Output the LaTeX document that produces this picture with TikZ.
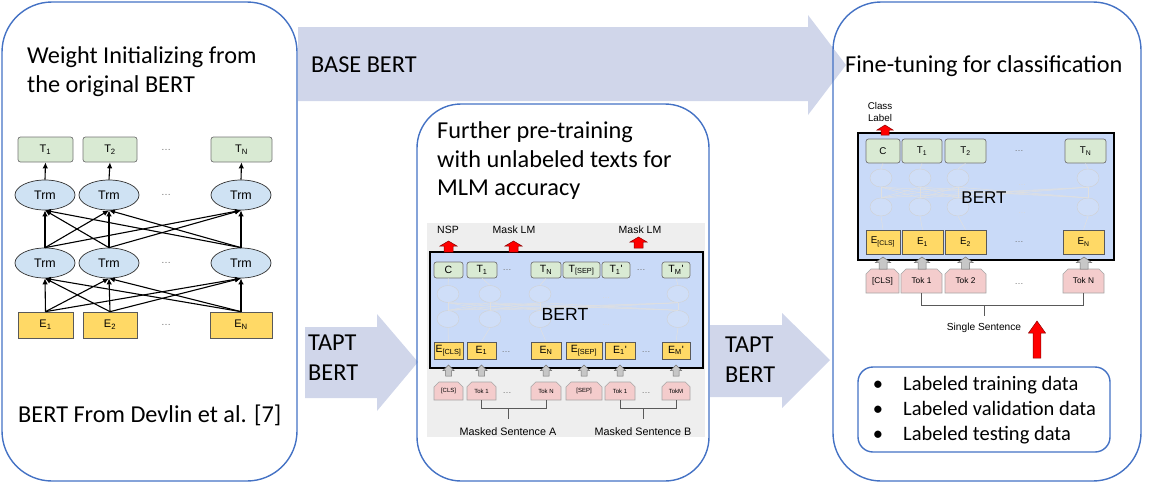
\documentclass[tikz,border=0pt]{standalone}
\usepackage{fontspec}
\setmainfont{Carlito}
\newfontfamily\arialfont{Liberation Sans}
\usetikzlibrary{shapes.misc,shapes.geometric,arrows.meta}

\definecolor{panelblue}{RGB}{68,114,196}
\definecolor{arrowfill}{RGB}{208,214,234}
\definecolor{bertblue}{RGB}{201,218,248}
\definecolor{tokgreen}{RGB}{217,234,211}
\definecolor{embyellow}{RGB}{255,217,102}
\definecolor{tokpink}{RGB}{244,204,204}
\definecolor{trmblue}{RGB}{207,226,243}
\definecolor{bggray}{RGB}{238,238,238}

\tikzset{
  panel/.style={draw=panelblue, line width=1.4pt, rounded corners=#1},
  bigarrow/.style={fill=arrowfill},
  title/.style={anchor=base west, inner sep=0pt, font=\fontsize{24.3}{29}\selectfont},
  datatext/.style={anchor=base west, inner sep=0pt, font=\fontsize{20.5}{25}\selectfont},
  lbl/.style={inner sep=0pt, font=\arialfont\fontsize{#1}{#1}\selectfont},
  outbox/.style={draw=black!55, fill=tokgreen, rounded corners=2.5pt, inner sep=0pt, line width=0.7pt},
  embbox/.style={draw=black!65, fill=embyellow, inner sep=0pt, line width=0.7pt},
  tokbox/.style={chamfered rectangle, chamfered rectangle corners={north west,north east},
    chamfered rectangle xsep=2.5pt, chamfered rectangle ysep=2.5pt,
    draw=black!35, fill=tokpink, inner sep=0pt, line width=0.6pt},
  trm/.style={ellipse, draw=black!80, fill=trmblue, minimum width=60pt, minimum height=30pt,
    inner sep=0pt, line width=0.7pt, font=\arialfont\fontsize{12.4}{14}\selectfont},
  ghost/.style={ellipse, draw=black!18, fill=white, fill opacity=0.12, minimum width=22pt, minimum height=17pt, inner sep=0pt},
  ghostline/.style={draw=black!12, line width=0.5pt},
  dotsy/.style={inner sep=0pt, text=black!55, font=\arialfont\fontsize{#1}{#1}\selectfont},
  bertbox/.style={draw=black, line width=1.4pt, fill=bertblue, inner sep=0pt},
  flow/.style={-{Latex[length=6pt,width=5.5pt]}, line width=1.1pt},
  brace/.style={draw=black!65, line width=0.7pt},
  greyarr/.style={fill=black!22, draw=black!55, line width=0.5pt},
  redarr/.style={fill=red, draw=red!55!black, line width=0.5pt},
  pics/uparr/.style n args={5}{code={
    \path[#5] (-#2,0) -- (-#2,#1-#4) -- (-#3,#1-#4) -- (0,#1) -- (#3,#1-#4) -- (#2,#1-#4) -- (#2,0) -- cycle;}},
}

\begin{document}
\begin{tikzpicture}[x=1pt,y=1pt,yscale=-1]
\useasboundingbox (0,0) rectangle (1149,485);

%Shape: Block arrows between the stages
\path[bigarrow] (298,27) -- (808,27) -- (808,15) -- (846,65) -- (808,115) -- (808,101) -- (298,101) -- cycle;
\path[bigarrow] (305,327) -- (377,327) -- (377,314) -- (418,362) -- (377,411) -- (377,398) -- (305,398) -- cycle;
\path[bigarrow] (710,325) -- (782,325) -- (782,313) -- (830,360) -- (782,408) -- (782,397) -- (710,397) -- cycle;

%Shape: Panels
\draw[panel=50] (2,2) rectangle (297,481);
\draw[panel=44] (417,104) rectangle (709,481);
\draw[panel=48] (833,2) rectangle (1141,481);

% Text Node
\node[title] (tLeftA) at (27,63) {Weight Initializing from};
\node[title] (tLeftB) at (27,92) {the original BERT};
\node[title] (tCite) at (18,422) {BERT From Devlin et al. [7]};
\node[title] (tBase) at (311,72) {BASE BERT};
\node[title] (tTaptA) at (308,350) {TAPT};
\node[title] (tTaptB) at (308,380) {BERT};
\node[title] (tTaptC) at (725,352) {TAPT};
\node[title] (tTaptD) at (725,382) {BERT};
\node[title] (tMidA) at (437,138) {Further pre-training};
\node[title] (tMidB) at (437,167) {with unlabeled texts for};
\node[title] (tMidC) at (437,195) {MLM accuracy};
\node[title] (tRight) at (845,72) {Fine-tuning for classification};

%%% Left: original BERT
\foreach \n/\x/\w in {1/45.5/55, 2/110/54, N/241.5/61}
  \node[outbox, minimum width=\w, minimum height=25, lbl=11] (lT\n) at (\x,149.5) {T\textsubscript{\n}};
\foreach \n/\x in {1/45, 2/109, N/241} {
  \node[trm] (lA\n) at (\x,195) {Trm};
  \node[trm] (lB\n) at (\x,263) {Trm};
}
\foreach \n/\x/\w in {1/45.5/55, 2/110/54, N/241/62}
  \node[embbox, minimum width=\w, minimum height=26, lbl=11] (lE\n) at (\x,325) {E\textsubscript{\n}};
\foreach \k/\y in {a/149.5, b/195, c/263, d/325}
  \node[dotsy=10] (lDots\k) at (166,\y) {\dots};
\foreach \i in {1,2,N} {
  \foreach \j in {1,2,N} {
    \draw[flow] (lE\i.north) -- (lB\j.south);
    \draw[flow] (lB\i.north) -- (lA\j.south);
  }
  \draw[flow] (lA\i.north) -- (lT\i.south);
}

%%% Middle: pre-training picture
\fill[bggray] (427,223) rectangle (705,437);
\node[bertbox, minimum width=273, minimum height=116] (mBert) at (566.5,310) {};
\foreach \k/\x in {1/448,2/490,3/540,4/678} {
  \node[ghost] (mUp\k) at (\x,294) {};
  \node[ghost] (mLo\k) at (\x,319) {};
}
\foreach \i in {1,...,4} \foreach \j in {1,...,4} \draw[ghostline] (mLo\i.north) -- (mUp\j.south);
\node[dotsy=8, text=black!15] (mGdA) at (606,298) {\dots};
\node[dotsy=8, text=black!15] (mGdB) at (606,325) {\dots};
\node[lbl=17.6] (mBertLbl) at (565,314) {BERT};

\foreach \n/\x/\w/\lab in {C/448.5/29/C, T1/482/30/{T\textsubscript{1}}, TN/546/30/{T\textsubscript{N}},
    Tsep/581.5/37/{T\textsubscript{[SEP]}}, Tb1/616/28/{T\textsubscript{1}'}, TbM/676/28/{T\textsubscript{M}'}}
  \node[outbox, minimum width=\w, minimum height=16, lbl=10.5] (m\n) at (\x,270) {\lab};
\foreach \n/\x/\w/\lab in {Ecls/448.5/29/{E\textsubscript{[CLS]}}, E1/481.5/29/{E\textsubscript{1}}, EN/546/30/{E\textsubscript{N}},
    Esep/584/36/{E\textsubscript{[SEP]}}, Eb1/620/30/{E\textsubscript{1}'}, EbM/676/28/{E\textsubscript{M}'}}
  \node[embbox, minimum width=\w, minimum height=17, lbl=10.5] (m\n) at (\x,350.5) {\lab};
\foreach \k/\n in {1/Ecls,2/E1,3/EN,4/EbM} \draw[ghostline] (m\n.north) -- (mLo\k.south);
\foreach \k/\n in {1/C,2/T1,3/TN,4/TbM} \draw[ghostline] (mUp\k.north) -- (m\n.south);
\foreach \n/\x/\w/\lab in {cls/448.5/29/[CLS], tok1/481.5/29/Tok 1, tokN/546/30/Tok N,
    sep/584/36/[SEP], tokb1/620/30/Tok 1, tokM/676/28/TokM}
  \node[tokbox, minimum width=\w, minimum height=18, lbl=6] (m\n) at (\x,391) {\lab};
\foreach \k/\x/\y in {a/507/270, b/641/270, c/506/352, d/646/352, e/507/393, f/646/393}
  \node[dotsy=9] (mDots\k) at (\x,\y) {\dots};
\foreach \x in {448.5,481.5,546,584,620,676}
  \pic at (\x,376) {uparr={11}{3}{5.5}{5.5}{greyarr}};

\coordinate (mSa) at (508,408);
\coordinate (mSaEnd) at (508,419);
\coordinate (mSb) at (643,408);
\coordinate (mSbEnd) at (643,419);
\draw[brace] (mtok1.south) -- (mtok1.south |- mSa) -- (mtokN.south |- mSa) -- (mtokN.south);
\draw[brace] (mSa) -- (mSaEnd);
\draw[brace] (mtokb1.south) -- (mtokb1.south |- mSb) -- (mtokM.south |- mSb) -- (mtokM.south);
\draw[brace] (mSb) -- (mSbEnd);
\node[lbl=10.8] (mSentA) at (508,432) {Masked Sentence A};
\node[lbl=10.8] (mSentB) at (643,432) {Masked Sentence B};

\pic at (448.5,252) {uparr={11}{4.5}{8.5}{5}{redarr}};
\pic at (513.5,252) {uparr={11}{4.5}{8.5}{5}{redarr}};
\pic at (638.5,248) {uparr={11}{4.5}{8.5}{5}{redarr}};
\node[lbl=10.5] (mNsp) at (448,230) {NSP};
\node[lbl=10.5] (mMaskA) at (514,230) {Mask LM};
\node[lbl=10.5] (mMaskB) at (640,230) {Mask LM};

%%% Right: fine-tuning picture
\node[bertbox, minimum width=256, minimum height=127] (rBert) at (986,196.5) {};
\foreach \k/\x in {1/881,2/920,3/958,4/1088} {
  \node[ghost, minimum width=22, minimum height=18] (rUp\k) at (\x,178) {};
  \node[ghost, minimum width=22, minimum height=18] (rLo\k) at (\x,207) {};
}
\foreach \i in {1,...,4} \foreach \j in {1,...,4} \draw[ghostline] (rLo\i.north) -- (rUp\j.south);
\node[dotsy=8, text=black!15] (rGdA) at (1022,185) {\dots};
\node[dotsy=8, text=black!15] (rGdB) at (1022,213) {\dots};
\node[lbl=17] (rBertLbl) at (984,198) {BERT};

\foreach \n/\x/\w/\lab in {C/883/34/C, T1/922/40/{T\textsubscript{1}}, T2/965.5/41/{T\textsubscript{2}}, TN/1085.5/41/{T\textsubscript{N}}}
  \node[outbox, minimum width=\w, minimum height=24, lbl=9.8] (r\n) at (\x,151) {\lab};
\foreach \n/\x/\w/\lab in {Ecls/883/34/{E\textsubscript{[CLS]}}, E1/922.5/41/{E\textsubscript{1}}, E2/965.5/41/{E\textsubscript{2}}, EN/1083.5/41/{E\textsubscript{N}}}
  \node[embbox, minimum width=\w, minimum height=24, lbl=9.8] (r\n) at (\x,242) {\lab};
\foreach \k/\n in {1/Ecls,2/E1,3/E2,4/EN} \draw[ghostline] (r\n.north) -- (rLo\k.south);
\foreach \k/\n in {1/C,2/T1,3/T2,4/TN} \draw[ghostline] (rUp\k.north) -- (r\n.south);
\foreach \n/\x/\w/\lab in {cls/882.5/33/[CLS], tok1/921.5/41/Tok 1, tok2/965.5/41/Tok 2, tokN/1083.5/41/Tok N}
  \node[tokbox, minimum width=\w, minimum height=24, lbl=8.3] (r\n) at (\x,281) {\lab};
\foreach \k/\y in {a/151, b/242, c/284}
  \node[dotsy=9] (rDots\k) at (1019,\y) {\dots};
\foreach \x in {883,922,965.5,1084}
  \pic at (\x,269) {uparr={12}{4}{7.5}{5.5}{greyarr}};

\coordinate (rSs) at (984,305);
\coordinate (rSsEnd) at (984,316);
\draw[brace] (rtok1.south) -- (rtok1.south |- rSs) -- (rtokN.south |- rSs) -- (rtokN.south);
\draw[brace] (rSs) -- (rSsEnd);
\node[lbl=10.2] (rSent) at (984,328) {Single Sentence};

\pic at (885,135) {uparr={10}{4}{8}{5}{redarr}};
\node[lbl=9.8] (rClassA) at (880,106) {Class};
\node[lbl=9.8] (rClassB) at (880,118) {Label};

% data box
\node[draw=panelblue, line width=1.4pt, rounded corners=15, minimum width=252, minimum height=85] (rData) at (984,409.5) {};
\pic at (1037,358) {uparr={37}{3.8}{8.5}{12}{redarr}};
\foreach \k/\y/\lab in {a/390/Labeled training data, b/415/Labeled validation data, c/440/Labeled testing data} {
  \node[datatext, anchor=base] (rBul\k) at (878,\y) {\textbullet};
  \node[datatext] (rDat\k) at (903,\y) {\lab};
}

\end{tikzpicture}
\end{document}
